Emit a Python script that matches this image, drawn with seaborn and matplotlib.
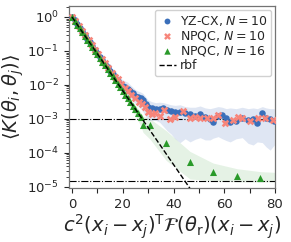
import matplotlib
matplotlib.use("Agg")
import matplotlib.pyplot as plt
from matplotlib.ticker import MultipleLocator
import seaborn as sns
import pandas as pd

# YZ-CX, N=10
blue_x = [0, 1, 2, 3, 4, 5, 6, 7, 8, 9, 10, 11, 12, 13, 14, 15, 16, 17, 18, 19, 20,
          21, 22, 23, 24, 25, 26, 27, 28, 29, 30,
          31.5, 33, 34.5, 36, 37.5, 39, 40.6, 42.6, 44.6, 46.5, 48.5, 50.5, 52.5, 54.4,
          55.6, 57.6, 59.2, 60.8, 62.3, 64.7, 67.1, 69.4, 71.4, 73.0, 75.0, 76.5, 78.1, 79.7]
blue_y = [1.0, 0.80, 0.62, 0.48, 0.38, 0.30, 0.23, 0.18, 0.14, 0.11, 0.086, 0.068, 0.053,
          0.042, 0.033, 0.026, 0.021, 0.016, 0.013, 0.011, 0.0095, 0.0085, 0.0078, 0.0066,
          0.0056, 0.0047, 0.0044, 0.0041, 0.0037, 0.0027, 0.0022,
          0.0021, 0.0020, 0.0019, 0.0021, 0.0018, 0.0017, 0.0016, 0.0016, 0.0015, 0.0014,
          0.0012, 0.0014, 0.00115, 0.0010, 0.00082, 0.0012, 0.0013, 0.00105, 0.00082,
          0.00087, 0.00105, 0.00093, 0.0010, 0.00075, 0.0015, 0.00105, 0.0010, 0.00087]
blue_lo = [0.8, 0.64, 0.50, 0.38, 0.30, 0.24, 0.18, 0.14, 0.11, 0.088, 0.069, 0.054, 0.042,
           0.033, 0.026, 0.020, 0.016, 0.012, 0.0095, 0.0078, 0.0065, 0.0056, 0.0048, 0.0040,
           0.0033, 0.0028, 0.0024, 0.0020, 0.0016, 0.0012, 0.0009,
           9e-4, 9e-4, 8e-4, 6e-4, 4.5e-4, 3.6e-4, 2.6e-4, 2e-4, 2.6e-4, 2.1e-4, 2.5e-4,
           2.8e-4, 2.4e-4, 2.4e-4, 2.7e-4, 3e-4, 2.6e-4, 2.3e-4, 2.1e-4, 2.6e-4, 2.8e-4,
           1.9e-4, 1.7e-4, 2.1e-4, 2.0e-4, 1.5e-4, 1.2e-4, 1.7e-4]
blue_hi = [1.2, 0.96, 0.74, 0.58, 0.46, 0.36, 0.28, 0.22, 0.17, 0.13, 0.10, 0.082, 0.064,
           0.050, 0.040, 0.031, 0.025, 0.021, 0.018, 0.016, 0.014, 0.013, 0.012, 0.010,
           0.0085, 0.0072, 0.0066, 0.0062, 0.0056, 0.0045, 0.0036,
           3.2e-3, 3.0e-3, 3.1e-3, 3.0e-3, 2.8e-3, 2.6e-3, 2.5e-3, 2.6e-3, 2.3e-3, 2.2e-3,
           2.2e-3, 2.4e-3, 2.1e-3, 2.0e-3, 2.1e-3, 2.3e-3, 2.2e-3, 2.0e-3, 2.1e-3, 2.0e-3,
           2.2e-3, 2.0e-3, 2.1e-3, 2.0e-3, 2.3e-3, 2.1e-3, 2.0e-3, 2.0e-3]

# NPQC, N=10
red_x = [0, 1.3, 2.6, 3.9, 5.2, 6.5, 7.8, 9.1, 10.4, 11.7, 13.0, 14.3, 15.6, 16.9, 18.2,
         19.5, 20.8, 22.1, 23.4, 24.9, 26.3, 27.5, 28.8, 30.1, 31.4, 32.9, 34.7, 36.3, 38.7,
         40.6, 43.8, 46.5, 48.5, 50.5, 53.3, 55.6, 57.6, 60.4, 63.5, 65.5, 67.1, 70.2, 73.4,
         76.1, 79.3]
red_y = [1.0, 0.76, 0.55, 0.40, 0.29, 0.21, 0.152, 0.11, 0.080, 0.058, 0.043, 0.031, 0.023,
         0.017, 0.015, 0.011, 0.0083, 0.0068, 0.0052, 0.0040, 0.0032, 0.0027, 0.0023, 0.0016,
         0.0014, 0.0015, 0.0012, 0.0018, 0.0010, 0.0011, 0.00165, 0.00105, 0.0011, 0.00105,
         0.00105, 0.00105, 0.0013, 0.00075, 0.00093, 0.0011, 0.00105, 0.00087, 0.00105,
         0.00105, 0.00093]

# NPQC, N=16
green_x = [0, 1, 2, 3, 4, 5, 6, 7, 8, 9, 10, 11, 12, 13, 14, 15, 16, 17, 18, 19, 20, 21,
           22, 23, 24, 25, 26, 27, 28, 30.8, 37.1, 46.5, 55.6, 65.1, 74.2, 83]
green_y = [0.97, 0.76, 0.59, 0.46, 0.36, 0.28, 0.215, 0.168, 0.131, 0.102, 0.080, 0.062,
           0.048, 0.038, 0.029, 0.023, 0.0178, 0.0139, 0.0108, 0.0084, 0.0065, 0.0051,
           0.0040, 0.0031, 0.0024, 0.0019, 0.0015, 0.0011, 0.00068,
           6.8e-4, 1.9e-4, 5.3e-5, 2.8e-5, 2.1e-5, 1.8e-5, 1.6e-5]
green_lo = [0.84, 0.66, 0.51, 0.40, 0.31, 0.24, 0.187, 0.146, 0.114, 0.089, 0.070, 0.054,
            0.042, 0.033, 0.025, 0.020, 0.0155, 0.0121, 0.0092, 0.0070, 0.0052, 0.0039,
            0.0029, 0.0022, 0.0016, 0.0012, 0.00088, 0.00064, 0.00040,
            2.5e-4, 6e-5, 1.7e-5, 1.5e-5, 1.4e-5, 1.4e-5, 1.4e-5]
green_hi = [1.12, 0.87, 0.68, 0.53, 0.41, 0.32, 0.247, 0.193, 0.151, 0.117, 0.092, 0.071,
            0.055, 0.044, 0.033, 0.026, 0.0205, 0.016, 0.0125, 0.0098, 0.0077, 0.0061,
            0.0049, 0.0039, 0.0031, 0.0025, 0.0020, 0.0016, 0.0012,
            1.0e-3, 4.5e-4, 1.1e-4, 5e-5, 3.4e-5, 2.8e-5, 2.6e-5]

# rbf reference (straight on a semilog axis)
rbf_x = [0, 80]
rbf_y = [1.0, 2.06e-9]

floor_levels = [1e-3, 1.5e-5]

BLUE = "#3a6fba"
RED = "#f7857a"
GREEN = "#2a9a2a"


def make_plot():
    sns.set_style("ticks")
    fig = plt.figure(figsize=(2.91, 2.42), dpi=100)
    ax = fig.add_axes([0.237, 0.223, 0.708, 0.752])

    ax.fill_between(blue_x, blue_lo, blue_hi, color="#b8c8e6", alpha=0.45, lw=0, zorder=1)
    ax.fill_between(green_x, green_lo, green_hi, color=GREEN, alpha=0.12, lw=0, zorder=1)

    for lv in floor_levels:
        ax.axhline(lv, color="black", ls="-.", lw=0.8, zorder=2)

    df_b = pd.DataFrame({"x": blue_x, "y": blue_y})
    df_r = pd.DataFrame({"x": red_x, "y": red_y})
    df_g = pd.DataFrame({"x": green_x, "y": green_y})
    sns.scatterplot(data=df_b, x="x", y="y", ax=ax, color=BLUE, marker="o", s=22,
                    linewidth=0, label=r"YZ-CX, $N=10$", zorder=3)
    sns.scatterplot(data=df_r, x="x", y="y", ax=ax, color=RED, marker="X", s=30,
                    linewidth=0, label=r"NPQC, $N=10$", zorder=3)
    sns.scatterplot(data=df_g, x="x", y="y", ax=ax, color=GREEN, marker="^", s=26,
                    linewidth=0, label=r"NPQC, $N=16$", zorder=4)
    sns.lineplot(x=rbf_x, y=rbf_y, ax=ax, color="black", ls="--", lw=1.0,
                 label="rbf", zorder=5)

    ax.set_yscale("log")
    ax.set_xlim(-1.2, 80)
    ax.set_ylim(9.2e-6, 2.1)
    ax.xaxis.set_major_locator(MultipleLocator(20))
    ax.xaxis.set_minor_locator(MultipleLocator(10))
    ax.tick_params(axis="both", which="major", labelsize=9.5, length=3.5, width=0.8)
    ax.tick_params(axis="both", which="minor", length=2, width=0.6)
    ax.tick_params(axis="x", which="minor", length=3.5, width=0.8)
    for sp in ax.spines.values():
        sp.set_color("0.45")
        sp.set_linewidth(0.9)

    ax.set_xlabel(r"$c^2(x_i-x_j)^\mathrm{T}\mathcal{F}(\theta_\mathrm{r})(x_i-x_j)$",
                  fontsize=14, labelpad=1)
    ax.set_ylabel(r"$\langle K(\theta_i,\theta_j)\rangle$", fontsize=14, labelpad=1)

    ax.legend(loc="upper right", fontsize=9, handlelength=1.4, handletextpad=0.3,
              borderpad=0.3, labelspacing=0.1, borderaxespad=0.3, markerscale=0.9,
              framealpha=0.9)

    fig.savefig("out.png", dpi=100)


if __name__ == "__main__":
    make_plot()
